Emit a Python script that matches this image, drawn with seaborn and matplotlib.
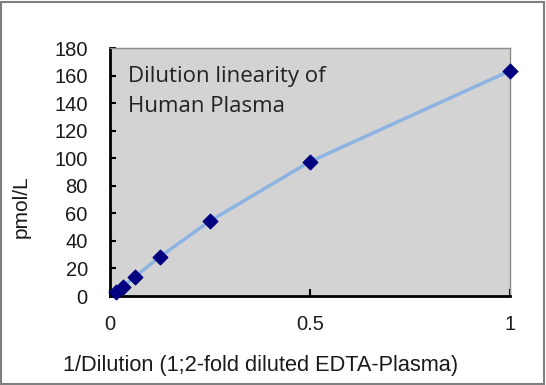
import matplotlib
matplotlib.use("Agg")
import matplotlib.pyplot as plt
import seaborn as sns
import pandas as pd
from matplotlib.patches import Rectangle

# Data
inv_dilution = [1/64, 1/32, 1/16, 1/8, 1/4, 1/2, 1.0]
pmol_per_l = [3.1, 6.7, 14.0, 28.5, 54.5, 97.5, 163.5]
x_ticks = [0, 0.5, 1]
x_tick_labels = ["0", "0.5", "1"]
y_ticks = list(range(0, 181, 20))

df = pd.DataFrame({"x": inv_dilution, "y": pmol_per_l})

sns.set_style("white")
plt.rcParams["font.family"] = ["Liberation Sans", "DejaVu Sans"]

fig = plt.figure(figsize=(5.46, 3.85), dpi=100)
ax = fig.add_axes([110/546, (385-296)/385, 400/546, (296-48)/385])
ax.set_facecolor("#d3d3d3")

sns.lineplot(data=df, x="x", y="y", ax=ax, color="#8db3e2", linewidth=2.5, zorder=2)
sns.scatterplot(data=df, x="x", y="y", ax=ax, marker="D", s=60, color="#000080",
                edgecolor="#000080", zorder=3, clip_on=False)

ax.set_xlim(0, 1)
ax.set_ylim(0, 180)
ax.set_xticks(x_ticks)
ax.set_xticklabels(x_tick_labels)
ax.set_yticks(y_ticks)
ax.tick_params(axis="y", direction="in", length=4, width=1.5, labelsize=14.5, colors="black", pad=16, left=True)
ax.tick_params(axis="x", direction="in", length=5, width=1.5, labelsize=14.5, colors="black", pad=14, bottom=True)
for lab in ax.get_xticklabels() + ax.get_yticklabels():
    lab.set_color("#1a1a1a")

for s in ["left", "bottom"]:
    ax.spines[s].set_color("black")
    ax.spines[s].set_linewidth(2)
for s in ["top", "right"]:
    ax.spines[s].set_color("#8c8c8c")
    ax.spines[s].set_linewidth(1)

ax.set_xlabel("")
ax.set_ylabel("")
fig.text(261/546, 1 - 365/385, "1/Dilution (1;2-fold diluted EDTA-Plasma)", fontsize=15.7,
         ha="center", va="center", color="#1a1a1a")
fig.text(21/546, 1 - 207/385, "pmol/L", fontsize=15, rotation=90,
         ha="center", va="center", color="#1a1a1a")

fig.text(128/546, 1 - 82/385, "Dilution linearity of", fontsize=16,
         family=["Open Sans", "DejaVu Sans"], va="baseline", ha="left", color="#222222")
fig.text(128/546, 1 - 112/385, "Human Plasma", fontsize=16,
         family=["Open Sans", "DejaVu Sans"], va="baseline", ha="left", color="#222222")

fig.patches.append(Rectangle((0.002, 0.003), 0.995, 0.993, transform=fig.transFigure,
                             fill=False, edgecolor="#7f7f7f", linewidth=1.5))

fig.savefig("out.png", dpi=100)
